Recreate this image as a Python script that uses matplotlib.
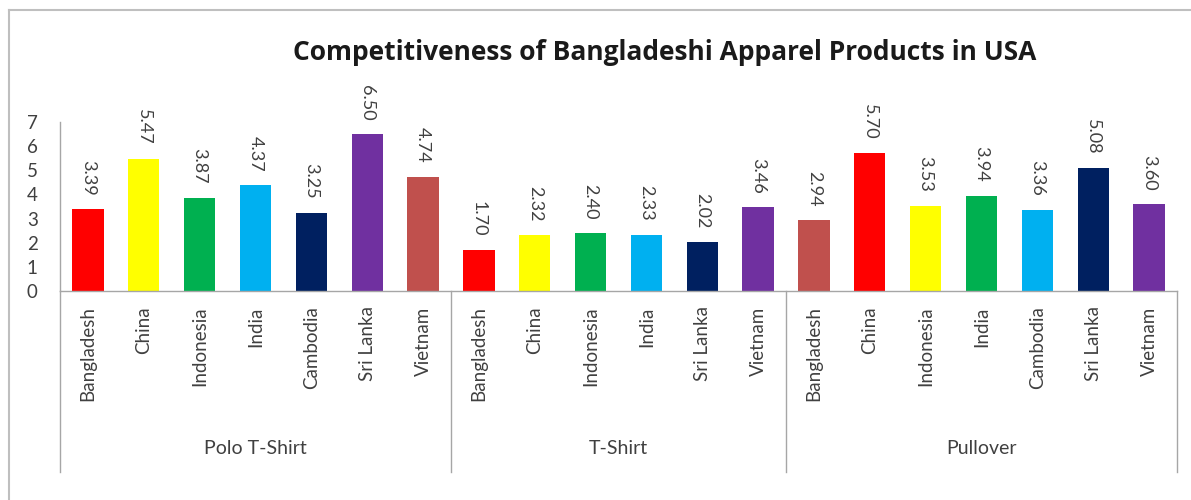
import matplotlib
matplotlib.use("Agg")
import matplotlib.pyplot as plt
from matplotlib.lines import Line2D

groups = ["Polo T-Shirt", "T-Shirt", "Pullover"]
group_countries = [
    ["Bangladesh", "China", "Indonesia", "India", "Cambodia", "Sri Lanka", "Vietnam"],
    ["Bangladesh", "China", "Indonesia", "India", "Sri Lanka", "Vietnam"],
    ["Bangladesh", "China", "Indonesia", "India", "Cambodia", "Sri Lanka", "Vietnam"],
]
group_values = [
    [3.39, 5.47, 3.87, 4.37, 3.25, 6.50, 4.74],
    [1.70, 2.32, 2.40, 2.33, 2.02, 3.46],
    [2.94, 5.70, 3.53, 3.94, 3.36, 5.08, 3.60],
]
group_colors = [
    ["#FF0000", "#FFFF00", "#00B050", "#00B0F0", "#002060", "#7030A0", "#C0504D"],
    ["#FF0000", "#FFFF00", "#00B050", "#00B0F0", "#002060", "#7030A0"],
    ["#C0504D", "#FF0000", "#FFFF00", "#00B050", "#00B0F0", "#002060", "#7030A0"],
]
yticks = [0, 1, 2, 3, 4, 5, 6, 7]
title = "Competitiveness of Bangladeshi Apparel Products in USA"

plt.rcParams["font.family"] = ["Lato", "DejaVu Sans"]

fig = plt.figure(figsize=(11.91, 5.0), dpi=100)
ax = fig.add_axes([60 / 1191, 209 / 500, 1117 / 1191, 169 / 500])

labels, values, colors, xs = [], [], [], []
bounds = []
pos = 0
for g, cs, vs, cl in zip(groups, group_countries, group_values, group_colors):
    start = pos
    for c, v, col in zip(cs, vs, cl):
        labels.append(c)
        values.append(v)
        colors.append(col)
        xs.append(pos)
        pos += 1
    bounds.append((start, pos - 1))

ax.bar(xs, values, width=0.56, color=colors)
for x, v in zip(xs, values):
    ax.annotate(f"{v:.2f}", (x, v), xytext=(0, 10), textcoords="offset points",
                rotation=270, ha="center", va="bottom", fontsize=13, color="#404040")

ax.set_xlim(-0.5, pos - 0.5)
ax.set_ylim(0, 7)
ax.set_yticks(yticks)
ax.set_yticklabels([str(t) for t in yticks], fontsize=13.5, color="#404040")
ax.tick_params(axis="y", length=0, pad=16)
ax.set_xticks(xs)
ax.set_xticklabels(labels, rotation=90, fontsize=13.5, color="#404040", va="top")
ax.tick_params(axis="x", length=0, pad=11)

for s in ["top", "right"]:
    ax.spines[s].set_visible(False)
for s in ["left", "bottom"]:
    ax.spines[s].set_color("#A6A6A6")
    ax.spines[s].set_linewidth(1)

tr = ax.get_xaxis_transform()
edges = [-0.5] + [b[1] + 0.5 for b in bounds]
for e in edges:
    ax.plot([e, e], [0, -181 / 169], transform=tr, color="#A6A6A6", lw=1, clip_on=False)
for g, (a, b) in zip(groups, bounds):
    ax.text((a + b) / 2, -158 / 169, g, transform=tr, ha="center", va="center",
            fontsize=14, color="#404040")

fig.text(665 / 1191, 1 - 53 / 500, title, ha="center", va="center",
         fontsize=19, fontweight="bold", color="#1a1a1a",
         family=["Open Sans", "DejaVu Sans"])

# outer chart border
fig.add_artist(Line2D([9 / 1191, 9 / 1191], [0, 1 - 10 / 500], transform=fig.transFigure,
                      color="#BFBFBF", lw=1.5))
fig.add_artist(Line2D([9 / 1191, 1], [1 - 10 / 500, 1 - 10 / 500], transform=fig.transFigure,
                      color="#BFBFBF", lw=1.5))

fig.savefig("out.png", dpi=100)
